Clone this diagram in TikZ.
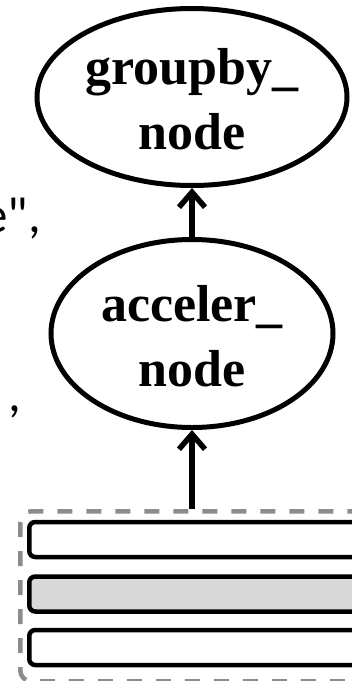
\documentclass[tikz,border=0pt]{standalone}
\usepackage{fontspec}
\setmainfont{Liberation Serif}
\newfontfamily\sidefont{Carlito}
\usetikzlibrary{shapes.geometric,arrows.meta}
\definecolor{dashgray}{HTML}{8C8C8C}
\definecolor{rowgray}{HTML}{D9D9D9}
\tikzset{
  opnode/.style={ellipse, draw=black, line width=5pt, inner sep=0pt,
    align=center, font=\fontsize{52}{65}\selectfont\bfseries},
  arr/.style={line width=5.5pt, -{Straight Barb[length=15pt,width=26pt]}},
  rowbox/.style={draw=black, line width=4.5pt, rounded corners=6pt,
    minimum width=420pt, minimum height=35pt, inner sep=0pt, anchor=west},
  groupbox/.style={draw=dashgray, line width=4.5pt, dash pattern=on 15pt off 14pt,
    rounded corners=11pt, minimum width=440pt, minimum height=170pt,
    inner sep=0pt, anchor=north west},
  sidetext/.style={font=\sidefont\fontsize{51}{60}\selectfont, inner sep=0pt,
    anchor=base east}
}
\begin{document}
\begin{tikzpicture}[x=1pt,y=-1pt]
\useasboundingbox (0,0) rectangle (352,681);
\node[opnode, minimum width=310pt, minimum height=177pt] (groupby) at (192,97)
  {\rule{0pt}{41pt}groupby\_\\node};
\node[opnode, minimum width=282pt, minimum height=188pt] (accel) at (192,333.5)
  {\rule{0pt}{41pt}acceler\_\\node};
\node[groupbox] (stack) at (18,509) {};
\node[rowbox] (r1) at (27,539.5) {};
\node[rowbox, fill=rowgray] (r2) at (27,594) {};
\node[rowbox] (r3) at (27,647.5) {};
\coordinate (stacktop) at (stack.north -| accel.south);
\draw[arr] (stacktop) -- (accel.south);
\draw[arr] (accel.north) -- (groupby.south);
\node[sidetext] (t1) at (41,232) {e",};
\node[sidetext] (t2) at (21,411) {,};
\end{tikzpicture}
\end{document}
